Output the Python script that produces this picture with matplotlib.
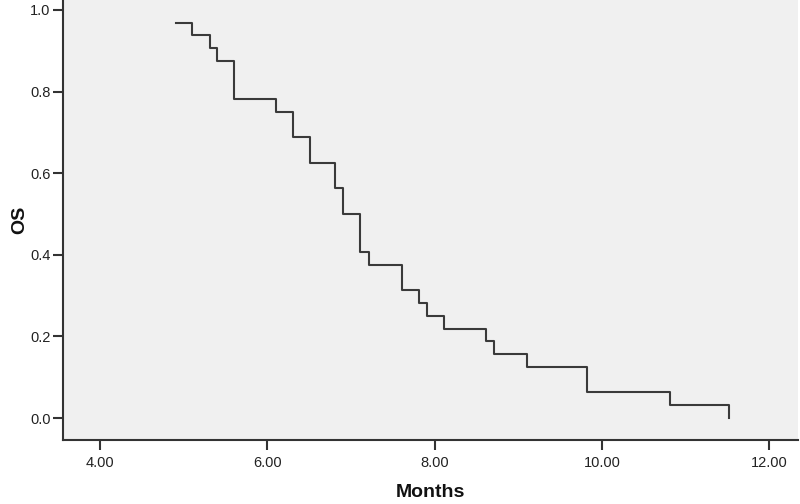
import matplotlib
matplotlib.use("Agg")
import matplotlib.pyplot as plt

# Kaplan-Meier step data
times = [4.91, 5.10, 5.31, 5.40, 5.60, 6.11, 6.31, 6.51, 6.81, 6.91, 7.11,
         7.21, 7.61, 7.81, 7.91, 8.11, 8.61, 8.71, 9.11, 9.82, 10.82, 11.52]
surv = [0.969, 0.938, 0.906, 0.875, 0.781, 0.750, 0.688, 0.625, 0.563, 0.500,
        0.406, 0.375, 0.313, 0.281, 0.250, 0.219, 0.188, 0.156, 0.125, 0.063,
        0.031, 0.0]
xticks = [4, 6, 8, 10, 12]
xtick_labels = ["4.00", "6.00", "8.00", "10.00", "12.00"]
yticks = [0.0, 0.2, 0.4, 0.6, 0.8, 1.0]
ytick_labels = ["0.0", "0.2", "0.4", "0.6", "0.8", "1.0"]

plt.rcParams['font.family'] = ['Liberation Sans', 'DejaVu Sans']

fig = plt.figure(figsize=(8, 5.04), dpi=100)
ax = fig.add_axes([0.079, 0.126, 0.918, 0.874])
ax.set_facecolor('#f0f0f0')

ax.plot(times, surv, drawstyle='steps-post', color='#3a3a3a', lw=1.5)

ax.set_xlim(3.56, 12.34)
ax.set_ylim(-0.055, 1.0245)
ax.set_xticks(xticks)
ax.set_xticklabels(xtick_labels)
ax.set_yticks(yticks)
ax.set_yticklabels(ytick_labels)

for s in ['top', 'right']:
    ax.spines[s].set_visible(False)
for s in ['left', 'bottom']:
    ax.spines[s].set_color('#333333')
    ax.spines[s].set_linewidth(1.5)

ax.tick_params(axis='both', length=7, width=1.5, color='#333333',
               labelsize=10.5, labelcolor='#222222', pad=2)
ax.tick_params(axis='x', pad=4)

ax.set_xlabel('Months', fontsize=14, fontweight='bold', color='#111111', labelpad=10)
ax.set_ylabel('OS', fontsize=14, fontweight='bold', color='#111111', labelpad=1.5)

fig.savefig('out.png', dpi=100, facecolor='white')
